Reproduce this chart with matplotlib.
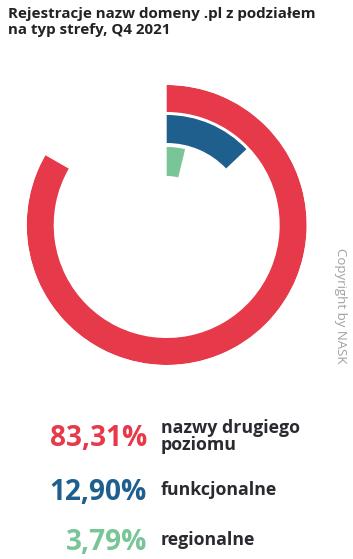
import numpy as np
import matplotlib

matplotlib.use("Agg")
import matplotlib.pyplot as plt

# Data
categories = ["nazwy drugiego\npoziomu", "funkcjonalne", "regionalne"]
shares = [83.31, 12.90, 3.79]
share_labels = ["83,31%", "12,90%", "3,79%"]
colors = ["#E6394A", "#1F5F8E", "#79C597"]

W, H = 353, 559
fig = plt.figure(figsize=(W / 100, H / 100), dpi=100)

# polar axes centred on the rings
cx, cy, R = 166.7, 225, 140
ax = fig.add_axes([(cx - R) / W, (H - cy - R) / H, 2 * R / W, 2 * R / H], projection="polar")
ax.set_theta_offset(np.pi / 2)
ax.set_theta_direction(-1)
ax.set_ylim(0, R)
ax.axis("off")

ring_bottoms = [113, 82, 49]
ring_heights = [27, 28, 29]
for pct, b, h, c in zip(shares, ring_bottoms, ring_heights, colors):
    ax.bar(0, h, width=2 * np.pi * pct / 100, bottom=b, align="edge", color=c, linewidth=0)

fig.text(8 / W, 1 - 7 / H, "Rejestracje nazw domeny .pl z podziałem\nna typ strefy, Q4 2021",
         fontsize=10.9, fontweight="bold", family="Open Sans", color="#222222",
         va="top", ha="left", linespacing=1.18)

fig.text(341 / W, 1 - 306 / H, "Copyright by NASK", rotation=-90, fontsize=9.5,
         color="#a0a0a0", ha="center", va="center", family="Open Sans")

# legend rows
baselines = [446, 500, 550]
for lab, cat, c, yb in zip(share_labels, categories, colors, baselines):
    fig.text(147 / W, 1 - yb / H, lab, fontsize=20.2, fontweight="bold", color=c,
             ha="right", va="baseline", family="Open Sans")
    n = cat.count("\n")
    # single text block; last line sits at the row baseline (or 5px above for one-liners)
    fig.text(161 / W, 1 - (yb - 5 + 9 * n) / H, cat, fontsize=12.8, fontweight="bold",
             color="#2a2a30", ha="left", va="baseline", family="Open Sans",
             linespacing=0.92)

fig.savefig("out.png", dpi=100)
